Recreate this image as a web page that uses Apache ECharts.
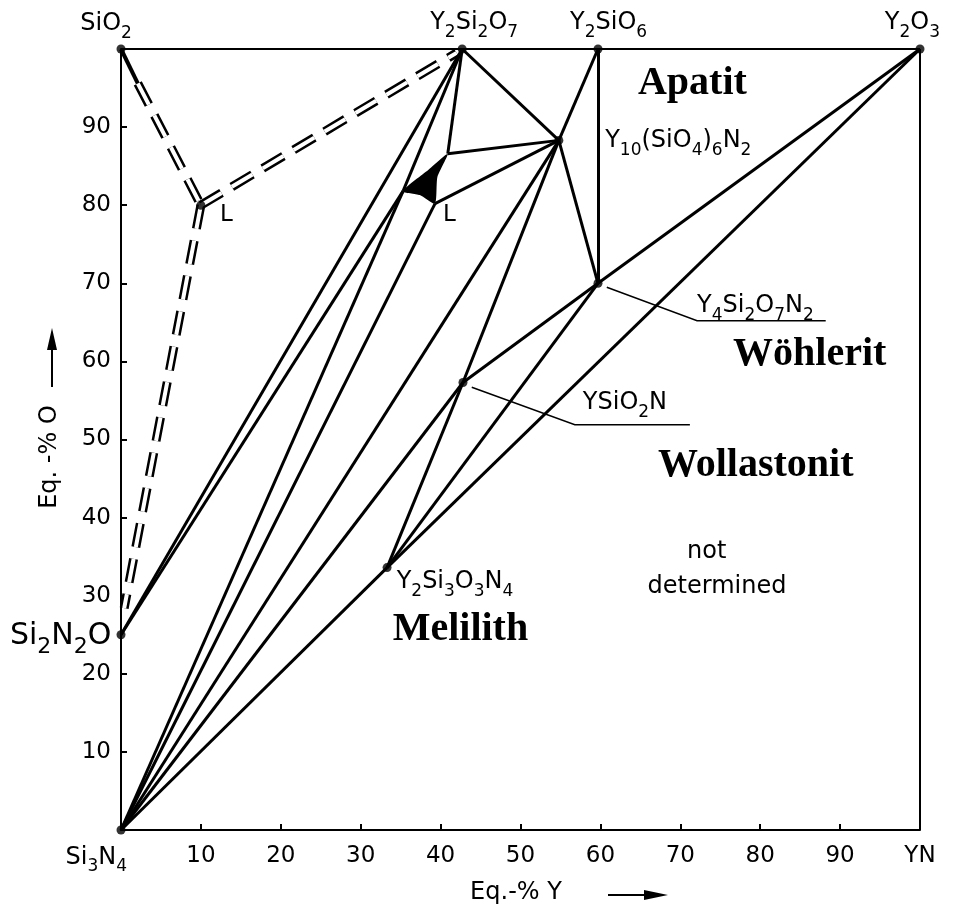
<!DOCTYPE html>
<html>
<head>
<meta charset="utf-8">
<script src="https://cdn.jsdelivr.net/npm/echarts@6/dist/echarts.min.js"></script>
<style>
  html, body { margin: 0; padding: 0; background: #fff; }
  #chart { width: 962px; height: 908px; }
</style>
</head>
<body>
<div id="chart"></div>
<script>
// Phases of the Si3N4–SiO2–Y2O3–YN system, in equivalent percent
// (Eq.-% Y along x, Eq.-% O along y).
const phaseNames = ['Si3N4', 'SiO2', 'Y2O3', 'YN', 'Si2N2O', 'Y2Si2O7', 'Y2SiO6',
                    'Y10(SiO4)6N2', 'Y4Si2O7N2', 'YSiO2N', 'Y2Si3O3N4', 'L'];
const phaseY = [0, 0, 100, 100, 0, 42.7, 59.7, 54.8, 59.7, 42.8, 33.3, 10];
const phaseO = [0, 100, 100, 0, 25, 100, 100, 88.3, 70, 57.3, 33.6, 80];

// corners of the liquid (eutectic) region
const liquidCornerNames = ['La', 'Lb', 'Lc'];
const liquidCornerY = [35.3, 40.9, 39.3];
const liquidCornerO = [81.8, 86.6, 80.2];

// outline of the liquid region (filled)
const liquidOutlineY = [35.3, 38.2, 40.9, 39.6, 39.3, 37.4];
const liquidOutlineO = [81.8, 84.3, 86.6, 83.6, 80.2, 81.3];

// edges of the composition square
const squareEdges = [['SiO2', 'Y2O3'], ['Y2O3', 'YN']];

// tie lines between coexisting phases
const tieLines = [
  ['Si2N2O', 'Y2Si2O7'], ['Si2N2O', 'La'], ['Si3N4', 'La'], ['La', 'Y2Si2O7'],
  ['Si3N4', 'Lc'], ['Si3N4', 'Y10(SiO4)6N2'], ['Si3N4', 'YSiO2N'], ['Si3N4', 'Y2Si3O3N4'],
  ['Y2Si3O3N4', 'Y2O3'], ['Y2Si2O7', 'Lb'], ['Lb', 'Y10(SiO4)6N2'], ['Lc', 'Y10(SiO4)6N2'],
  ['Y2Si2O7', 'Y10(SiO4)6N2'], ['Y2SiO6', 'Y10(SiO4)6N2'], ['Y2SiO6', 'Y4Si2O7N2'],
  ['Y10(SiO4)6N2', 'Y4Si2O7N2'], ['Y10(SiO4)6N2', 'YSiO2N'], ['YSiO2N', 'Y2Si3O3N4'],
  ['Y2Si3O3N4', 'Y4Si2O7N2'], ['YSiO2N', 'Y4Si2O7N2'], ['Y4Si2O7N2', 'Y2O3']
];

// liquidus boundaries of the SiO2-rich melt (dashed) and the solid start at SiO2
const liquidusY = [[2.1, 10], [10, 42.0], [10, 0.4]];
const liquidusO = [[95.6, 80], [80, 99.5], [80, 28.4]];
const liquidusStartY = [0, 2.1];
const liquidusStartO = [100, 95.6];

// marked compositions
const dotPhases = ['Si3N4', 'SiO2', 'Y2O3', 'Si2N2O', 'Y2Si2O7', 'Y2SiO6', 'Y10(SiO4)6N2',
                   'Y4Si2O7N2', 'YSiO2N', 'Y2Si3O3N4', 'L'];

const xTickValues = [10, 20, 30, 40, 50, 60, 70, 80, 90];
const yTickValues = [10, 20, 30, 40, 50, 60, 70, 80, 90];

// ---------------------------------------------------------------------
const SANS = '"DejaVu Sans", sans-serif';
const SERIF = '"Liberation Serif", "DejaVu Serif", serif';

const allNames = phaseNames.concat(liquidCornerNames);
const allY = phaseY.concat(liquidCornerY);
const allO = phaseO.concat(liquidCornerO);
function pt(name) {
  const i = allNames.indexOf(name);
  return [allY[i], allO[i]];
}

// chemical formula -> rich text with subscripted digits
function chem(f, key) {
  const m = key || 'm', s = (key ? key + 's' : 's');
  return f.replace(/(\d+)|([^\d]+)/g, (all, d, t) => d ? `{${s}|${d}}` : `{${m}|${t}}`);
}
const richChem = {
  m: { fontFamily: SANS, fontSize: 24, color: '#000' },
  s: { fontFamily: SANS, fontSize: 17, color: '#000', padding: [19, 0, 0, 0] },
  b: { fontFamily: SANS, fontSize: 30, color: '#000' },
  bs: { fontFamily: SANS, fontSize: 22, color: '#000', padding: [22, 0, 0, 0] }
};

const chart = echarts.init(document.getElementById('chart'), null, { renderer: 'canvas' });

const option = {
  animation: false,
  backgroundColor: '#fff',
  grid: { left: 121, right: 42, top: 49, bottom: 78, containLabel: false },
  xAxis: {
    type: 'value', min: 0, max: 100, interval: 10,
    axisLine: { lineStyle: { color: '#000', width: 2 } },
    axisTick: { inside: true, length: 6, lineStyle: { color: '#000', width: 2 } },
    splitLine: { show: false },
    axisLabel: {
      margin: 15, color: '#000', fontFamily: SANS, fontSize: 23,
      showMinLabel: true, showMaxLabel: true,
      formatter: v => v === 100 ? 'YN' : (xTickValues.indexOf(v) >= 0 ? String(v) : '')
    }
  },
  yAxis: {
    type: 'value', min: 0, max: 100, interval: 10,
    axisLine: { lineStyle: { color: '#000', width: 2 } },
    axisTick: { inside: true, length: 6, lineStyle: { color: '#000', width: 2 } },
    splitLine: { show: false },
    axisLabel: {
      margin: 10, color: '#000', fontFamily: SANS, fontSize: 23,
      formatter: v => yTickValues.indexOf(v) >= 0 ? String(v) : ''
    }
  },
  series: [
    {
      name: 'square', type: 'lines', coordinateSystem: 'cartesian2d', silent: true,
      lineStyle: { color: '#000', width: 2, opacity: 1 },
      data: squareEdges.map(([a, b]) => ({ coords: [pt(a), pt(b)] }))
    },
    {
      name: 'liquidus', type: 'lines', coordinateSystem: 'cartesian2d', silent: true,
      lineStyle: { color: '#000', width: 9, opacity: 1, type: [24, 12], cap: 'butt' },
      data: liquidusY.map((xs, i) => ({ coords: [[xs[0], liquidusO[i][0]], [xs[1], liquidusO[i][1]]] }))
    },
    {
      name: 'liquidus-inner', type: 'lines', coordinateSystem: 'cartesian2d', silent: true,
      lineStyle: { color: '#fff', width: 4, opacity: 1, type: [24, 12], cap: 'butt' },
      data: liquidusY.map((xs, i) => ({ coords: [[xs[0], liquidusO[i][0]], [xs[1], liquidusO[i][1]]] }))
    },
    {
      name: 'liquidus-start', type: 'lines', coordinateSystem: 'cartesian2d', silent: true,
      lineStyle: { color: '#000', width: 4, opacity: 1 },
      data: [{ coords: [[liquidusStartY[0], liquidusStartO[0]], [liquidusStartY[1], liquidusStartO[1]]] }]
    },
    {
      name: 'tie lines', type: 'lines', coordinateSystem: 'cartesian2d', silent: true,
      lineStyle: { color: '#000', width: 3, opacity: 1 },
      data: tieLines.map(([a, b]) => ({ coords: [pt(a), pt(b)] }))
    },
    {
      name: 'liquid', type: 'custom', coordinateSystem: 'cartesian2d', silent: true,
      data: [[liquidOutlineY[0], liquidOutlineO[0]]],
      renderItem: (params, api) => ({
        type: 'polygon',
        shape: { points: liquidOutlineY.map((x, i) => api.coord([x, liquidOutlineO[i]])), smooth: 0.2 },
        style: { fill: '#000' }
      })
    },
    {
      name: 'phases', type: 'scatter', silent: true, symbolSize: 9,
      itemStyle: { color: '#000' },
      data: dotPhases.map(pt)
    }
  ]
};
chart.setOption(option);

// ---- text annotations, anchored in data coordinates -----------------
const px = p => chart.convertToPixel({ gridIndex: 0 }, p);

const formulaNotes = [
  ['SiO2', -5.1, 103.2], ['Y2Si2O7', 38.7, 103.3], ['Y2SiO6', 56.2, 103.3], ['Y2O3', 95.6, 103.3],
  ['Y10(SiO4)6N2', 60.6, 88.2], ['Y4Si2O7N2', 72.1, 67.1], ['YSiO2N', 57.8, 54.7],
  ['Y2Si3O3N4', 34.5, 31.8]
];
const structureNotes = [
  ['Apatit', 64.7, 95.5], ['Wöhlerit', 76.6, 60.9], ['Wollastonit', 67.2, 46.6], ['Melilith', 34.0, 25.7]
];
const leaderLines = [
  [[60.8, 69.5], [72.1, 65.2], [88.2, 65.2]],
  [[43.9, 56.7], [56.8, 51.9], [71.2, 51.9]]
];

const graphics = [];
formulaNotes.forEach(([f, x, y]) => {
  const p = px([x, y]);
  graphics.push({ type: 'text', x: p[0], y: p[1], silent: true,
    style: { text: chem(f), rich: richChem, align: 'left', verticalAlign: 'middle' } });
});
structureNotes.forEach(([t, x, y]) => {
  const p = px([x, y]);
  graphics.push({ type: 'text', x: p[0], y: p[1], silent: true,
    style: { text: t, font: 'bold 40px ' + SERIF, fill: '#000', align: 'left', verticalAlign: 'middle' } });
});
leaderLines.forEach(line => {
  graphics.push({ type: 'polyline', silent: true,
    shape: { points: line.map(px) }, style: { stroke: '#000', lineWidth: 1.5, fill: null } });
});
// liquid labels
[[12.4, 78.7], [40.3, 78.7]].forEach(([x, y]) => {
  const p = px([x, y]);
  graphics.push({ type: 'text', x: p[0], y: p[1], silent: true,
    style: { text: 'L', font: '23px ' + SANS, fill: '#000', align: 'left', verticalAlign: 'middle' } });
});
// region not investigated
[['not', 73.3, 35.6], ['determined', 74.6, 31.2]].forEach(([t, x, y]) => {
  const p = px([x, y]);
  graphics.push({ type: 'text', x: p[0], y: p[1], silent: true,
    style: { text: t, font: '24px ' + SANS, fill: '#000', align: 'center', verticalAlign: 'middle' } });
});
// Si2N2O on the O axis, Si3N4 at the origin
{
  const p = px([-13.9, 24.8]);
  graphics.push({ type: 'text', x: p[0], y: p[1], silent: true,
    style: { text: chem('Si2N2O', 'b'), rich: richChem, align: 'left', verticalAlign: 'middle' } });
  const q = px([-3.1, -3.5]);
  graphics.push({ type: 'text', x: q[0], y: q[1], silent: true,
    style: { text: chem('Si3N4'), rich: richChem, align: 'center', verticalAlign: 'middle' } });
}
// axis titles with arrows
graphics.push({ type: 'text', x: 516, y: 893, silent: true,
  style: { text: 'Eq.-% Y', font: '24px ' + SANS, fill: '#000', align: 'center', verticalAlign: 'middle' } });
graphics.push({ type: 'line', silent: true, shape: { x1: 608, y1: 895, x2: 650, y2: 895 },
  style: { stroke: '#000', lineWidth: 2 } });
graphics.push({ type: 'polygon', silent: true, shape: { points: [[668, 895], [644, 890], [644, 900]] },
  style: { fill: '#000' } });
graphics.push({ type: 'text', x: 50, y: 457, rotation: Math.PI / 2, silent: true,
  style: { text: 'Eq. -% O', font: '24px ' + SANS, fill: '#000', align: 'center', verticalAlign: 'middle' } });
graphics.push({ type: 'line', silent: true, shape: { x1: 52, y1: 387, x2: 52, y2: 345 },
  style: { stroke: '#000', lineWidth: 2 } });
graphics.push({ type: 'polygon', silent: true, shape: { points: [[52, 328], [47, 350], [57, 350]] },
  style: { fill: '#000' } });

chart.setOption({ graphic: graphics });
</script>
</body>
</html>
